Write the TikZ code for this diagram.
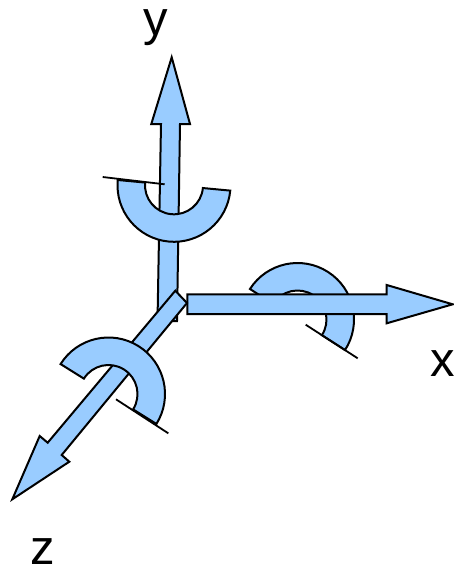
\documentclass[tikz,border=0pt]{standalone}
\usepackage{fontspec}
\setmainfont{Liberation Sans}
\usepackage{tikz}
\usetikzlibrary{calc}
\definecolor{axisblue}{RGB}{153,204,255}

\newcommand{\halfring}[2]{%
  \draw [ringshape] ($(#1)+(#2:56.5)$) arc[start angle=#2, delta angle=180, radius=56.5]
    -- ($(#1)+(#2+180:29)$) arc[start angle=#2+180, delta angle=-180, radius=29] -- cycle;
}

\begin{document}
\begin{tikzpicture}[
    x=1pt, y=-1pt,
    axisshape/.style={draw=black, fill=axisblue, line width=2pt},
    ringshape/.style={draw=black, fill=axisblue, line width=2pt},
    refline/.style={draw=black, line width=1.8pt},
    axislabel/.style={font=\fontsize{49}{60}\selectfont, text=black, inner sep=0pt, anchor=base}
]
\useasboundingbox (0,0) rectangle (454,566);

% y axis
\draw [axisshape] (171.7,57.3) -- (190,124) -- (180,124) -- (177,321) -- (157.5,321) -- (161,124) -- (151.3,124) -- cycle;
\halfring{174,185.3}{5.4}
\draw [refline] (102.7,177) -- (164.7,184.3);

% x axis
\halfring{297.5,319.5}{-147.3}
\draw [refline] (305.7,324.7) -- (357.7,358.3);
\draw [axisshape] (187.3,294.3) -- (386.7,294.3) -- (386.7,285) -- (452.7,304.3) -- (386.7,323.3) -- (386.7,314) -- (187.3,314) -- cycle;

% z axis
\draw [axisshape] (175.3,290.7) -- (187,303) -- (61.7,455) -- (69.3,461.7) -- (12.3,499.3) -- (39.7,436) -- (47.7,442.7) -- cycle;
\halfring{108.5,394}{-148}
\draw [refline] (116,399.3) -- (168.3,433.3);

\node [axislabel] (ylabel) at (156,35) {y};
\node [axislabel] (xlabel) at (442.5,376) {x};
\node [axislabel] (zlabel) at (42.5,564) {z};
\end{tikzpicture}
\end{document}
